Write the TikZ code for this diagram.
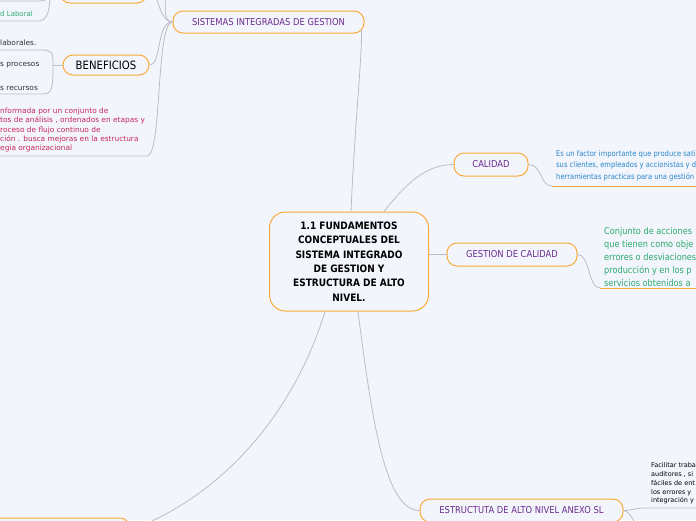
\documentclass[tikz,border=0pt]{standalone}
\usepackage{fontspec}
\setmainfont{DejaVu Sans}
\newfontfamily\narrowfont{DejaVu Sans}[FakeStretch=0.88]
\usetikzlibrary{positioning, calc}

\definecolor{mapbg}{RGB}{243,245,253}
\definecolor{maporange}{RGB}{250,170,55}
\definecolor{mappurple}{RGB}{106,42,140}
\definecolor{maplink}{RGB}{188,188,196}
\definecolor{mapblue}{RGB}{40,134,200}
\definecolor{mapgreen}{RGB}{45,170,110}
\definecolor{mapred}{RGB}{198,40,88}
\definecolor{maptext}{RGB}{50,50,50}

\begin{document}
\begin{tikzpicture}[x=1pt, y=-1pt,
    topic/.style={draw=maporange, line width=1pt, fill=mapbg, rounded corners=10pt, inner sep=0pt,
        minimum height=23pt, text=mappurple, font=\narrowfont\fontsize{9.5}{11}\selectfont},
    note/.style={inner sep=0pt, align=left, anchor=west},
    link/.style={draw=maplink, line width=0.8pt},
    underline/.style={draw=maporange, line width=1pt}]

    \fill[mapbg] (0,0) rectangle (696,520);
    \useasboundingbox (0,0) rectangle (696,520);

    % topics
    \node [topic, minimum width=159pt, minimum height=99pt, rounded corners=16pt, text=black, align=center,
        font=\narrowfont\bfseries\fontsize{10.2}{14.4}\selectfont] (central) at (349,261.5)
        {1.1 FUNDAMENTOS\\CONCEPTUALES DEL\\SISTEMA INTEGRADO\\DE GESTION Y\\ESTRUCTURA DE ALTO\\NIVEL.};
    \node [topic, minimum width=191pt, minimum height=22pt] (sig) at (268.5,22) {SISTEMAS INTEGRADAS DE GESTION};
    \node [topic, minimum width=87pt, minimum height=24pt] (prev) at (103.5,-9) {};
    \node [topic, minimum width=86pt, minimum height=20pt, text=black,
        font=\narrowfont\fontsize{11.5}{13}\selectfont] (benef) at (106,65) {BENEFICIOS};
    \node [topic, minimum width=74pt] (calidad) at (491,164.5) {CALIDAD};
    \node [topic, minimum width=130pt] (gestion) at (512,254.5) {GESTION DE CALIDAD};
    \node [topic, minimum width=203pt] (anexo) at (521.5,510.5) {ESTRUCTUTA DE ALTO NIVEL ANEXO SL};
    \node [topic, minimum width=140pt, minimum height=24pt] (next) at (60,530) {};

    % notes
    \node [note, text=mapgreen, font=\fontsize{7}{8}\selectfont] (laboral) at (0,14) {d Laboral};
    \node [note, text=maptext, font=\fontsize{7.4}{8}\selectfont] (laborales) at (0,43) {laborales.};
    \node [note, text=maptext, font=\fontsize{7.4}{8}\selectfont] (procesos) at (0,65.5) {s procesos};
    \node [note, text=maptext, font=\fontsize{7.4}{8}\selectfont] (recursos) at (0,88) {s recursos};
    \node [note, text=mapred, font=\fontsize{7.4}{9.1}\selectfont] (defin) at (0,130)
        {nformada por un conjunto de\\tos de análisis , ordenados en etapas y\\roceso de flujo continuo de\\ción . busca mejoras en la estructura\\egia organizacional};
    \node [note, text=mapblue, font=\narrowfont\fontsize{7.7}{11.5}\selectfont] (calnote) at (556,165.5)
        {Es un factor importante que produce sati\\sus clientes, empleados y accionistas y d\\herramientas practicas para una gestión};
    \node [note, text=mapgreen, font=\narrowfont\fontsize{9.3}{13}\selectfont] (gesnote) at (604,257)
        {Conjunto de acciones\\que tienen como obje\\errores o desviaciones\\producción y en los p\\servicios obtenidos a};
    \node [note, text=black, font=\fontsize{6.5}{8.75}\selectfont] (anexonote) at (651,483.5)
        {Facilitar traba\\auditores , si\\fáciles de ent\\los errores y\\integración y};

    % connectors from the central topic
    \draw [link] ($(central.north)+(2,0)$) .. controls (355,120) and (362,60) .. ($(sig.east)+(-3,8)$);
    \draw [link] ($(central.north)+(35,0)$) .. controls (405,185) and (425,164.5) .. (calidad.west);
    \draw [link] (central.east |- gestion.west) -- (gestion.west);
    \draw [link] ($(central.south)+(9,0)$) .. controls (372,420) and (385,510.5) .. (anexo.west);
    \draw [link] ($(central.south)+(-24,0)$) .. controls (295,410) and (225,495) .. (next.east);

    % SISTEMAS INTEGRADAS DE GESTION
    \coordinate (above) at (168,-30);
    \coordinate (definend) at (148,156);
    \draw [link] (sig.west) .. controls (162,22) and (165,5) .. (above);
    \draw [link] (sig.west) .. controls (158,22) and (160,-9) .. (prev.east);
    \draw [link] (sig.west) .. controls (156,22) and (162,65) .. (benef.east);
    \draw [link] (sig.west) .. controls (156,22) and (162,150) .. (definend) -- (0,156);

    % previous topic
    \coordinate (prevjoin) at (50,-9);
    \draw [link] (prev.west) -- (prevjoin);
    \draw [link] (prevjoin) .. controls (50,10) and (48,21) .. (38,21) -- (0,21);
    \draw [link] (prevjoin) .. controls (50,-3) and (47,1) .. (40,1) -- (0,1);

    % BENEFICIOS
    \coordinate (benefjoin) at (53,65);
    \draw [link] (benef.west) -- (benefjoin);
    \draw [link] (benefjoin) .. controls (53,52) and (52,50) .. (42,50) -- (0,50);
    \draw [link] (benefjoin) .. controls (53,90) and (52,94) .. (42,94) -- (0,94);

    % notes on the right
    \coordinate (calline) at (552,186);
    \coordinate (gesline) at (600,288);
    \coordinate (anexoline) at (646,508);
    \coordinate (below) at (640,535);
    \draw [link] (calidad.east) .. controls (542,164.5) and (540,186) .. (calline);
    \draw [underline] (calline) -- (700,186);
    \draw [link] (gestion.east) .. controls (590,254.5) and (588,288) .. (gesline);
    \draw [underline] (gesline) -- (700,288);
    \draw [link] (anexo.east) .. controls (632,510.5) and (634,508) .. (anexoline) -- (700,508);
    \draw [link] (anexo.east) .. controls (630,512) and (634,520) .. (below);
\end{tikzpicture}
\end{document}
